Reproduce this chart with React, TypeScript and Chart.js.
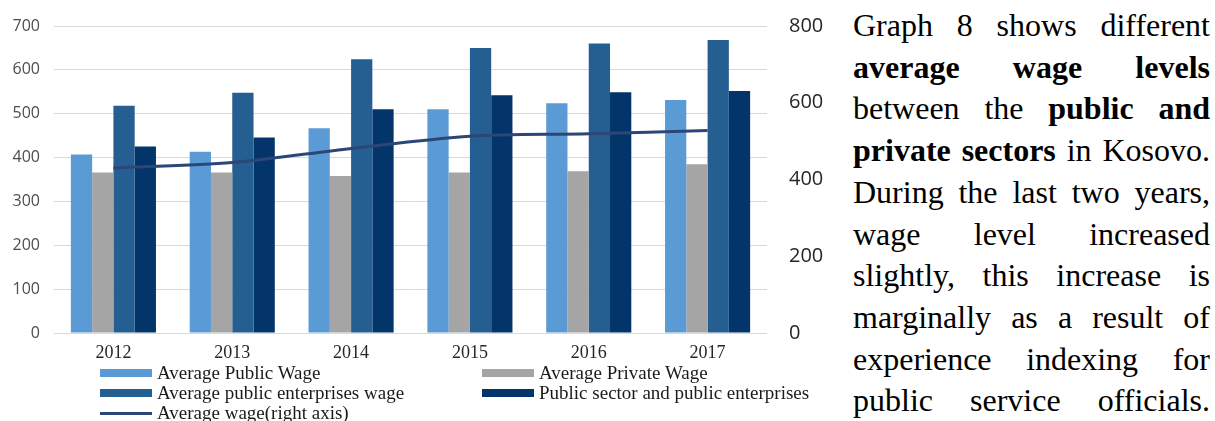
import { useEffect, useRef } from "react";
import { Chart, registerables } from "chart.js";
Chart.register(...registerables);

const years = ["2012", "2013", "2014", "2015", "2016", "2017"];
const avgPublicWage = [407, 413, 467, 510, 524, 531];
const avgPrivateWage = [366, 366, 358, 366, 369, 385];
const avgPublicEnterprisesWage = [518, 548, 624, 650, 660, 668];
const publicSectorAndEnterprises = [425, 446, 510, 542, 549, 552];
const avgWageRightAxis = [430, 444, 481, 513, 519, 528];
const leftTicks = [0, 100, 200, 300, 400, 500, 600, 700];
const rightTicks = [0, 200, 400, 600, 800];

const seriesNames = [
  "Average Public Wage",
  "Average Private Wage",
  "Average public enterprises wage",
  "Public sector and public enterprises",
  "Average wage(right axis)",
];
const colors = ["#5B9BD5", "#A5A5A5", "#255E91", "#03356A", "#2C4678"];

const paragraph: { t: string; b?: boolean }[][] = [
  [{ t: "Graph 8 shows different" }],
  [{ t: "average wage levels", b: true }],
  [{ t: "between the " }, { t: "public and", b: true }],
  [{ t: "private sectors", b: true }, { t: " in Kosovo." }],
  [{ t: "During the last two years," }],
  [{ t: "wage level increased" }],
  [{ t: "slightly, this increase is" }],
  [{ t: "marginally as a result of" }],
  [{ t: "experience indexing for" }],
  [{ t: "public service officials." }],
];

export default function App() {
  const ref = useRef<HTMLCanvasElement | null>(null);
  useEffect(() => {
    if (!ref.current) return;
    const chart = new Chart(ref.current, {
      type: "bar",
      data: {
        labels: years,
        datasets: [
          {
            type: "line",
            label: seriesNames[4],
            data: avgWageRightAxis,
            yAxisID: "y1",
            borderColor: colors[4],
            backgroundColor: colors[4],
            borderWidth: 3,
            pointRadius: 0,
            tension: 0.3,
            order: 0,
          } as any,
          { label: seriesNames[0], data: avgPublicWage, backgroundColor: colors[0], yAxisID: "y", order: 1 },
          { label: seriesNames[1], data: avgPrivateWage, backgroundColor: colors[1], yAxisID: "y", order: 1 },
          { label: seriesNames[2], data: avgPublicEnterprisesWage, backgroundColor: colors[2], yAxisID: "y", order: 1 },
          { label: seriesNames[3], data: publicSectorAndEnterprises, backgroundColor: colors[3], yAxisID: "y", order: 1 },
        ],
      },
      options: {
        animation: false,
        responsive: false,
        maintainAspectRatio: false,
        layout: { padding: { top: 26, left: 0, right: 0, bottom: 0 } },
        datasets: { bar: { categoryPercentage: 0.716, barPercentage: 1 } },
        plugins: { legend: { display: false }, tooltip: { enabled: false }, title: { display: false } },
        scales: {
          x: {
            grid: { display: false, drawTicks: false },
            border: { display: false },
            ticks: {
              padding: 9,
              color: "#262626",
              font: { family: "'Liberation Serif', 'Times New Roman', serif", size: 18 },
            },
            afterFit: (s: any) => { s.height = 32; },
          },
          y: {
            position: "left",
            min: leftTicks[0],
            max: leftTicks[leftTicks.length - 1],
            afterBuildTicks: (s: any) => { s.ticks = leftTicks.map((v) => ({ value: v })); },
            grid: { color: "#D9D9D9", lineWidth: 1, drawTicks: false },
            border: { display: false },
            ticks: {
              padding: 14,
              color: "#4D4D4D",
              font: { family: "'Open Sans', 'Liberation Sans', sans-serif", size: 16 },
            },
            afterFit: (s: any) => { s.width = 54; s.paddingTop = 0; s.paddingBottom = 0; },
          },
          y1: {
            position: "right",
            min: rightTicks[0],
            max: rightTicks[rightTicks.length - 1],
            afterBuildTicks: (s: any) => { s.ticks = rightTicks.map((v) => ({ value: v })); },
            grid: { display: false, drawTicks: false },
            border: { display: false },
            ticks: {
              padding: 22,
              color: "#262626",
              font: { family: "'Open Sans', 'Liberation Sans', sans-serif", size: 20 },
            },
            afterFit: (s: any) => { s.width = 73; s.paddingTop = 0; s.paddingBottom = 0; },
          },
        },
      },
    });
    return () => chart.destroy();
  }, []);

  const legendItems = [
    { i: 0, swX: 100, txX: 157, cy: 372.5, line: false },
    { i: 1, swX: 482, txX: 539, cy: 372.5, line: false },
    { i: 2, swX: 100, txX: 157, cy: 393, line: false },
    { i: 3, swX: 482, txX: 539, cy: 393, line: false },
    { i: 4, swX: 100, txX: 157, cy: 413, line: true },
  ];

  return (
    <div style={{ position: "absolute", left: 0, top: 0, width: 1215, height: 421, overflow: "hidden", background: "#fff" }}>
      <canvas ref={ref} width={840} height={365} style={{ position: "absolute", left: 0, top: 0, width: 840, height: 365 }} />
      {legendItems.map((it) => (
        <div key={it.i}>
          <div
            style={{
              position: "absolute",
              left: it.swX,
              top: it.cy - (it.line ? 1.5 : 4),
              width: 52,
              height: it.line ? 3 : 8,
              background: colors[it.i],
            }}
          />
          <div
            style={{
              position: "absolute",
              left: it.txX,
              top: it.cy - 10,
              height: 20,
              lineHeight: "20px",
              fontFamily: "'Liberation Serif', 'Times New Roman', serif",
              fontSize: 19,
              color: "#1a1a1a",
              whiteSpace: "nowrap",
            }}
          >
            {seriesNames[it.i]}
          </div>
        </div>
      ))}
      <div
        style={{
          position: "absolute",
          left: 853,
          top: 5,
          width: 357,
          fontFamily: "'Liberation Serif', 'Times New Roman', serif",
          fontSize: 32,
          lineHeight: "41.7px",
          color: "#000",
        }}
      >
        {paragraph.map((line, li) => (
          <div key={li} style={{ textAlign: "justify", textAlignLast: "justify", whiteSpace: "normal" } as any}>
            {line.map((seg, si) =>
              seg.b ? <b key={si}>{seg.t}</b> : <span key={si}>{seg.t}</span>
            )}
          </div>
        ))}
      </div>
    </div>
  );
}
